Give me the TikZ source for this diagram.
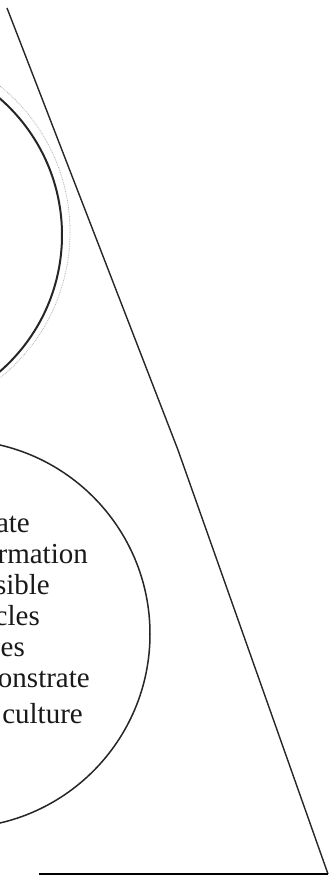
\documentclass[tikz,border=0pt]{standalone}
\usepackage{fontspec}
\setmainfont{Liberation Serif}
\begin{document}
\begin{tikzpicture}[x=1pt,y=-1pt,
  edge/.style={line width=1.4pt,black!85},
  arcline/.style={line width=2pt,black!85},
  ringline/.style={line width=1.5pt,black!85},
  base/.style={line width=2.2pt,black},
  noise/.style={line width=0.8pt,black!30,densely dotted},
  lbl/.style={inner sep=0pt,anchor=base east,font=\fontsize{29}{31}\selectfont,text=black!90}]
\useasboundingbox (0,0) rectangle (331,878);
\fill[white] (0,0) rectangle (331,878);
\begin{scope}
\clip (0,0) rectangle (331,878);
% top arc
\coordinate (c1) at (-119,235);
\draw[arcline] (c1) circle[radius=181];
\draw[noise] (-117,232) circle[radius=187];
% big circle
\coordinate (c2) at (-44,634);
\draw[ringline] (c2) circle[radius=194];
% diagonal
\coordinate (d0) at (7,8);
\coordinate (d1) at (178,450);
\coordinate (d2) at (328,874);
\coordinate (b0) at (39,874);
\draw[edge] (d0) -- (d1) -- (d2);
\draw[base] (b0) -- (d2);
% texts
\node[lbl] (t1) at (30,532) {ate};
\node[lbl] (t2) at (88,563) {rmation};
\node[lbl] (t3) at (50,594) {sible};
\node[lbl] (t4) at (40,625) {cles};
\node[lbl] (t5) at (25,656) {es};
\node[lbl] (t6) at (90,687) {onstrate};
\node[lbl] (t7) at (83,723) {culture};
\end{scope}
\end{tikzpicture}
\end{document}
